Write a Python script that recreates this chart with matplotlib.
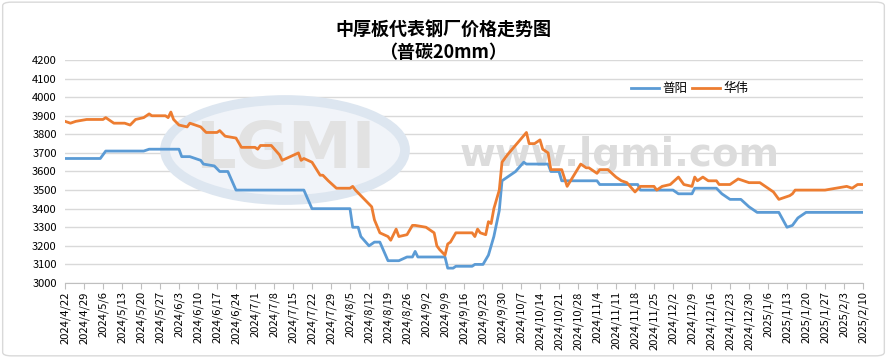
import matplotlib
matplotlib.use('Agg')
import matplotlib.pyplot as plt
from matplotlib.patches import Ellipse, FancyBboxPatch
import pandas as pd

plt.rcParams['font.family'] = ['Noto Sans CJK SC', 'DejaVu Sans']

# 普阳 price breakpoints
puyang_dates = ['2024-04-22', '2024-05-05', '2024-05-07', '2024-05-21', '2024-05-23', '2024-06-03',
                '2024-06-04', '2024-06-07', '2024-06-11', '2024-06-12', '2024-06-16', '2024-06-18',
                '2024-06-21', '2024-06-24', '2024-07-19', '2024-07-22', '2024-08-05', '2024-08-06',
                '2024-08-08', '2024-08-09', '2024-08-12', '2024-08-14', '2024-08-16', '2024-08-19',
                '2024-08-23', '2024-08-26', '2024-08-28', '2024-08-29', '2024-08-30', '2024-09-09',
                '2024-09-10', '2024-09-12', '2024-09-13', '2024-09-19', '2024-09-20', '2024-09-23',
                '2024-09-25', '2024-09-27', '2024-09-29', '2024-09-30', '2024-10-05', '2024-10-08',
                '2024-10-09', '2024-10-17', '2024-10-18', '2024-10-21', '2024-10-22', '2024-11-04',
                '2024-11-05', '2024-11-19', '2024-11-20', '2024-12-02', '2024-12-04', '2024-12-09',
                '2024-12-10', '2024-12-18', '2024-12-20', '2024-12-23', '2024-12-27', '2024-12-30',
                '2025-01-02', '2025-01-10', '2025-01-13', '2025-01-15', '2025-01-17', '2025-01-20',
                '2025-02-10']
puyang = [3670, 3670, 3710, 3710, 3720, 3720,
          3680, 3680, 3660, 3640, 3630, 3600,
          3600, 3500, 3500, 3400, 3400, 3300,
          3300, 3250, 3200, 3220, 3220, 3120,
          3120, 3140, 3140, 3170, 3140, 3140,
          3080, 3080, 3090, 3090, 3100, 3100,
          3150, 3250, 3390, 3550, 3600, 3650,
          3640, 3640, 3600, 3600, 3550, 3550,
          3530, 3530, 3500, 3500, 3480, 3480,
          3510, 3510, 3480, 3450, 3450, 3410,
          3380, 3380, 3300, 3310, 3350, 3380,
          3380]

# 华伟 price breakpoints
huawei_dates = ['2024-04-22', '2024-04-24', '2024-04-26', '2024-04-30', '2024-05-06', '2024-05-07',
                '2024-05-10', '2024-05-14', '2024-05-16', '2024-05-18', '2024-05-21', '2024-05-23',
                '2024-05-24', '2024-05-29', '2024-05-30', '2024-05-31', '2024-06-01', '2024-06-03',
                '2024-06-06', '2024-06-07', '2024-06-11', '2024-06-13', '2024-06-17', '2024-06-18',
                '2024-06-20', '2024-06-24', '2024-06-26', '2024-07-01', '2024-07-02', '2024-07-03',
                '2024-07-07', '2024-07-10', '2024-07-11', '2024-07-14', '2024-07-17', '2024-07-18',
                '2024-07-19', '2024-07-22', '2024-07-25', '2024-07-26', '2024-07-28', '2024-07-31',
                '2024-08-05', '2024-08-06', '2024-08-07', '2024-08-09', '2024-08-11', '2024-08-13',
                '2024-08-14', '2024-08-16', '2024-08-19', '2024-08-20', '2024-08-22', '2024-08-23',
                '2024-08-26', '2024-08-28', '2024-08-29', '2024-09-02', '2024-09-05', '2024-09-06',
                '2024-09-07', '2024-09-09', '2024-09-10', '2024-09-11', '2024-09-13', '2024-09-19',
                '2024-09-20', '2024-09-21', '2024-09-22', '2024-09-24', '2024-09-25', '2024-09-26',
                '2024-09-27', '2024-09-29', '2024-09-30', '2024-10-02', '2024-10-09', '2024-10-10',
                '2024-10-12', '2024-10-14', '2024-10-15', '2024-10-17', '2024-10-18', '2024-10-22',
                '2024-10-24', '2024-10-29', '2024-10-31', '2024-11-01', '2024-11-04', '2024-11-05',
                '2024-11-08', '2024-11-11', '2024-11-13', '2024-11-15', '2024-11-18', '2024-11-20',
                '2024-11-25', '2024-11-26', '2024-11-28', '2024-12-01', '2024-12-04', '2024-12-06',
                '2024-12-09', '2024-12-10', '2024-12-11', '2024-12-13', '2024-12-15', '2024-12-18',
                '2024-12-19', '2024-12-23', '2024-12-26', '2024-12-30', '2025-01-03', '2025-01-06',
                '2025-01-08', '2025-01-10', '2025-01-14', '2025-01-15', '2025-01-16', '2025-01-27',
                '2025-02-04', '2025-02-06', '2025-02-08', '2025-02-10']
huawei = [3870, 3860, 3870, 3880, 3880, 3890,
          3860, 3860, 3850, 3880, 3890, 3910,
          3900, 3900, 3890, 3920, 3880, 3850,
          3840, 3860, 3840, 3810, 3810, 3820,
          3790, 3780, 3730, 3730, 3720, 3740,
          3740, 3690, 3660, 3680, 3700, 3660,
          3670, 3650, 3580, 3580, 3550, 3510,
          3510, 3520, 3500, 3470, 3440, 3410,
          3340, 3270, 3250, 3230, 3290, 3250,
          3260, 3310, 3310, 3300, 3270, 3200,
          3180, 3150, 3210, 3220, 3270, 3270,
          3250, 3290, 3270, 3260, 3330, 3320,
          3400, 3500, 3650, 3690, 3810, 3750,
          3750, 3770, 3720, 3700, 3610, 3610,
          3520, 3640, 3620, 3620, 3590, 3610,
          3610, 3570, 3550, 3540, 3490, 3520,
          3520, 3500, 3520, 3530, 3570, 3530,
          3520, 3570, 3550, 3570, 3550, 3550,
          3530, 3530, 3560, 3540, 3540, 3510,
          3490, 3450, 3470, 3480, 3500, 3500,
          3520, 3510, 3530, 3530]

start, end = pd.Timestamp('2024-04-22'), pd.Timestamp('2025-02-10')
yticks = list(range(3000, 4201, 100))

fig = plt.figure(figsize=(8.87, 3.58), dpi=100)
fig.patch.set_facecolor('white')
fig.patches.append(FancyBboxPatch((0.003, 0.006), 0.994, 0.988, boxstyle='round,pad=0,rounding_size=0.01',
                                  transform=fig.transFigure, fill=False, ec='#D9D9D9', lw=1))

ax = fig.add_axes([65/887, 75/358, 798/887, 223/358])

# watermark (below the lines)
ax.add_patch(Ellipse((285/887, 1 - 150/358), 240/887, 100/358, transform=fig.transFigure,
                     fc='#F1F4F9', ec='#DDE6F0', lw=7, zorder=1, clip_on=False))
ax.text(285/887, 1 - 150/358, 'LGMI', fontsize=46, fontweight='bold', color='#E2E2E2',
        ha='center', va='center', family='DejaVu Sans', transform=fig.transFigure, zorder=1)
ax.text(620/887, 1 - 155/358, 'www.lgmi.com', fontsize=28, fontweight='bold',
        color='#DCDCDC', ha='center', va='center', family='DejaVu Sans',
        transform=fig.transFigure, zorder=1)

ax.plot(pd.to_datetime(puyang_dates), puyang, color='#5B9BD5', lw=2, label='普阳', zorder=3)
ax.plot(pd.to_datetime(huawei_dates), huawei, color='#ED7D31', lw=2, label='华伟', zorder=3)

ax.set_xlim(start, end)
ax.set_ylim(3000, 4200)
ax.set_yticks(yticks)
ax.set_yticklabels([str(v) for v in yticks], fontsize=8)
ax.grid(axis='y', color='#D9D9D9', lw=1, zorder=0)
ax.set_axisbelow(True)

xt = pd.date_range(start, end, freq='7D')
ax.set_xticks(xt)
ax.set_xticklabels([f'{d.year}/{d.month}/{d.day}' for d in xt], rotation=90, fontsize=8)
ax.tick_params(axis='x', length=4, color='#BFBFBF', pad=2)
ax.tick_params(axis='y', length=0, pad=6)

for s in ['top', 'right', 'left']:
    ax.spines[s].set_visible(False)
ax.spines['bottom'].set_color('#BFBFBF')

fig.text(443/887, 1 - 30/358, '中厚板代表钢厂价格走势图', fontsize=13, fontweight='bold',
         ha='center', va='center')
fig.text(443/887, 1 - 52/358, '（普碳20mm）', fontsize=13, fontweight='bold',
         ha='center', va='center')

ax.legend(loc='upper left', bbox_to_anchor=(625/887, 1 - 76/358), bbox_transform=fig.transFigure,
          ncol=2, frameon=False, fontsize=9, handlelength=2.2, handletextpad=0.3, columnspacing=0.4,
          borderpad=0)

fig.savefig('out.png', dpi=100)
